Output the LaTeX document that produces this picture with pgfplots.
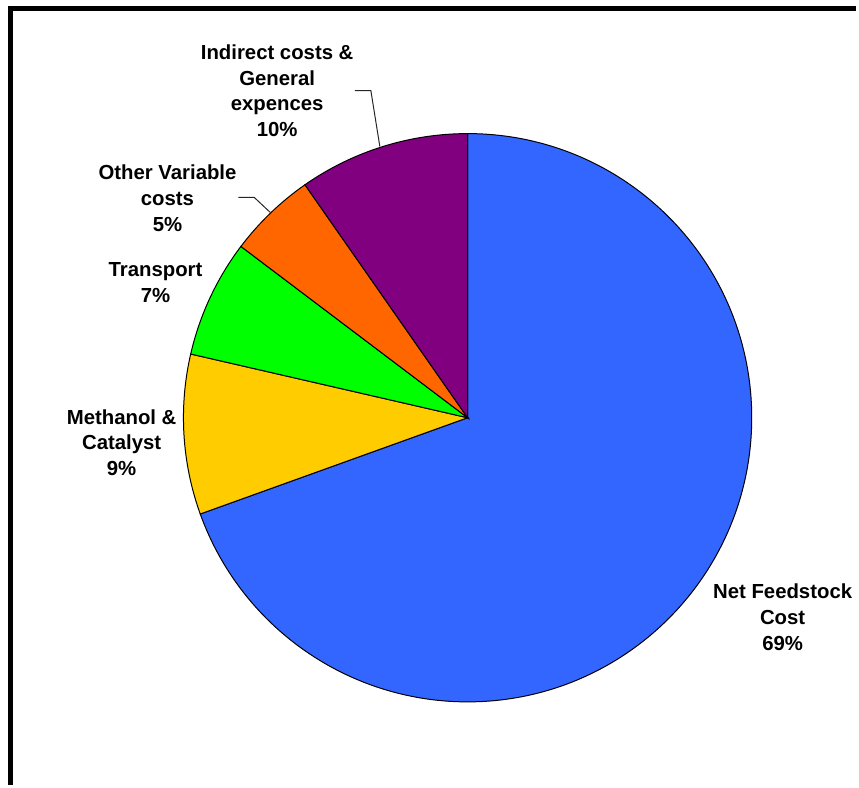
\documentclass[border=0pt]{standalone}
\usepackage{fontspec}
\setmainfont{Liberation Sans}
\usepackage{pgfplots}
\usepackage{pgfplotstable}
\pgfplotsset{compat=1.18}
\definecolor{cFeed}{HTML}{3366FF}
\definecolor{cMeth}{HTML}{FFCC00}
\definecolor{cTrans}{HTML}{00FF00}
\definecolor{cOther}{HTML}{FF6600}
\definecolor{cInd}{HTML}{800080}
\pgfplotstableread{
label value
Feedstock 69.5
Methanol 9.1
Transport 6.7
Other 5.0
Indirect 9.7
}\piedata
\begin{document}
\begin{tikzpicture}
\pgfplotstablegetelem{0}{value}\of\piedata \let\vA\pgfplotsretval
\pgfplotstablegetelem{1}{value}\of\piedata \let\vB\pgfplotsretval
\pgfplotstablegetelem{2}{value}\of\piedata \let\vC\pgfplotsretval
\pgfplotstablegetelem{3}{value}\of\piedata \let\vD\pgfplotsretval
\pgfplotstablegetelem{4}{value}\of\piedata \let\vE\pgfplotsretval
\pgfmathsetmacro\aO{90}
\pgfmathsetmacro\aA{\aO-3.6*\vA}
\pgfmathsetmacro\aB{\aA-3.6*\vB}
\pgfmathsetmacro\aC{\aB-3.6*\vC}
\pgfmathsetmacro\aD{\aC-3.6*\vD}
\pgfmathsetmacro\aE{\aD-3.6*\vE}
\begin{axis}[
  x=0.5pt, y=0.5pt,
  xmin=0, xmax=859, ymin=0, ymax=787,
  hide axis, clip=false, disabledatascaling,
]
\addplot[draw=none] coordinates {(0,0) (859,787)};
\draw[line width=2.6pt, black] (axis cs:10.5,0) -- (axis cs:10.5,778.5) -- (axis cs:859,778.5);
\filldraw[fill=cFeed, draw=black, line width=0.5pt] (axis cs:469,368) -- ++(\aO:142.5pt) arc[start angle=\aO, end angle=\aA, radius=142.5pt] -- cycle;
\filldraw[fill=cMeth, draw=black, line width=0.5pt] (axis cs:469,368) -- ++(\aA:142.5pt) arc[start angle=\aA, end angle=\aB, radius=142.5pt] -- cycle;
\filldraw[fill=cTrans, draw=black, line width=0.5pt] (axis cs:469,368) -- ++(\aB:142.5pt) arc[start angle=\aB, end angle=\aC, radius=142.5pt] -- cycle;
\filldraw[fill=cOther, draw=black, line width=0.5pt] (axis cs:469,368) -- ++(\aC:142.5pt) arc[start angle=\aC, end angle=\aD, radius=142.5pt] -- cycle;
\filldraw[fill=cInd, draw=black, line width=0.5pt] (axis cs:469,368) -- ++(\aD:142.5pt) arc[start angle=\aD, end angle=\aE, radius=142.5pt] -- cycle;
\draw[black!85, line width=0.5pt] (axis cs:356,696) -- (axis cs:372,696) -- (axis cs:381,640);
\draw[black!85, line width=0.5pt] (axis cs:239,589) -- (axis cs:255,589) -- (axis cs:271,574);
\tikzset{lab/.style={align=center, font=\fontsize{10.2}{13}\selectfont\bfseries, inner sep=0pt}}
\node[lab] at (axis cs:278,696) {Indirect costs \&\\General\\expences\\10\%};
\node[lab] at (axis cs:168,588) {Other Variable\\costs\\5\%};
\node[lab] at (axis cs:156,504) {Transport\\7\%};
\node[lab] at (axis cs:122,343) {Methanol \&\\Catalyst\\9\%};
\node[lab] at (axis cs:785,168) {Net Feedstock\\Cost\\69\%};
\end{axis}
\end{tikzpicture}
\end{document}
